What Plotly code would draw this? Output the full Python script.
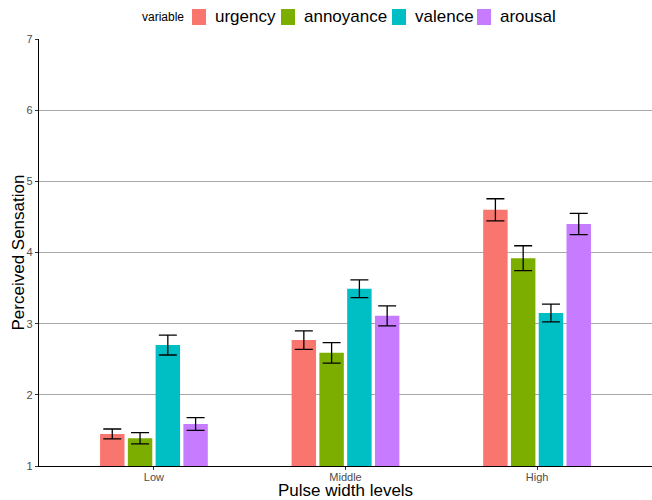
import plotly.graph_objects as go

levels = ["Low", "Middle", "High"]
variables = ["urgency", "annoyance", "valence", "arousal"]
colors = ["#F8766D", "#7CAE00", "#00BFC4", "#C77CFF"]

urgency = [1.45, 2.77, 4.60]
annoyance = [1.39, 2.59, 3.92]
valence = [2.70, 3.49, 3.15]
arousal = [1.59, 3.11, 4.40]

urgency_se = [0.07, 0.13, 0.155]
annoyance_se = [0.08, 0.145, 0.175]
valence_se = [0.14, 0.125, 0.125]
arousal_se = [0.09, 0.14, 0.15]

means = [urgency, annoyance, valence, arousal]
ses = [urgency_se, annoyance_se, valence_se, arousal_se]

font = "Liberation Sans, Arial, sans-serif"

W, H = 652, 500
ML, MR, MT, MB = 39, 0, 39, 34
PW, PH = W - ML - MR, H - MT - MB


def px_x(p):
    return (p - ML) / PW


def px_y(p):
    return (H - MB - p) / PH


fig = go.Figure()
for name, col, m, s in zip(variables, colors, means, ses):
    fig.add_trace(go.Bar(
        name=name, x=levels, y=[v - 1 for v in m], base=1,
        marker=dict(color=col, line=dict(width=0)),
        error_y=dict(type="data", array=s, color="black", thickness=1.3, width=9),
        hoverinfo="skip", showlegend=False,
    ))

# manual legend (ggplot style, top)
swatch_left = [192, 281, 392, 477]
text_left = [213, 302, 413, 498]
annotations = []
shapes = []
ly = 17
for name, col, sx, tx in zip(variables, colors, swatch_left, text_left):
    shapes.append(dict(type="rect", xref="paper", yref="paper",
                       x0=px_x(sx), x1=px_x(sx + 14), y0=px_y(ly + 8), y1=px_y(ly - 8),
                       fillcolor=col, line=dict(width=0), layer="above"))
    annotations.append(dict(text=name, xref="paper", yref="paper", x=px_x(tx), y=px_y(ly),
                            xanchor="left", yanchor="middle", showarrow=False,
                            font=dict(size=17, color="black", family=font)))
annotations.append(dict(text="variable", xref="paper", yref="paper", x=px_x(186), y=px_y(ly),
                        xanchor="right", yanchor="middle", showarrow=False,
                        font=dict(size=12, color="black", family=font)))
# axis titles
annotations.append(dict(text="Pulse width levels", xref="paper", yref="paper", x=px_x(346), y=px_y(490),
                        xanchor="center", yanchor="middle", showarrow=False,
                        font=dict(size=17, color="black", family=font)))
annotations.append(dict(text="Perceived Sensation", xref="paper", yref="paper", x=px_x(18), y=0.5,
                        xanchor="center", yanchor="middle", showarrow=False, textangle=-90,
                        font=dict(size=17, color="black", family=font)))

fig.update_layout(
    width=W, height=H,
    margin=dict(l=ML, r=MR, t=MT, b=MB, autoexpand=False),
    paper_bgcolor="white", plot_bgcolor="white",
    barmode="group", bargap=0.42, bargroupgap=0.12,
    font=dict(family=font, color="black"),
    showlegend=False,
    annotations=annotations,
    shapes=shapes,
    xaxis=dict(
        range=[-0.6, 2.6], showgrid=False, showline=True, linecolor="black", linewidth=1.3,
        ticks="outside", ticklen=3, tickcolor="#333333", automargin=False,
        ticklabelstandoff=-2,
        tickfont=dict(size=11, color="#4d4d4d"),
    ),
    yaxis=dict(
        range=[1, 7], tickvals=[1, 2, 3, 4, 5, 6, 7], showgrid=True, gridcolor="#a8a8a8", gridwidth=1,
        zeroline=False, showline=True, linecolor="black", linewidth=1.3, automargin=False,
        ticks="outside", ticklen=3, tickcolor="#333333",
        tickfont=dict(size=11, color="#4d4d4d"),
    ),
)

fig.write_html("out.html", config={"displayModeBar": False},
               post_script="document.body.style.margin='0';document.body.style.overflow='hidden';")
